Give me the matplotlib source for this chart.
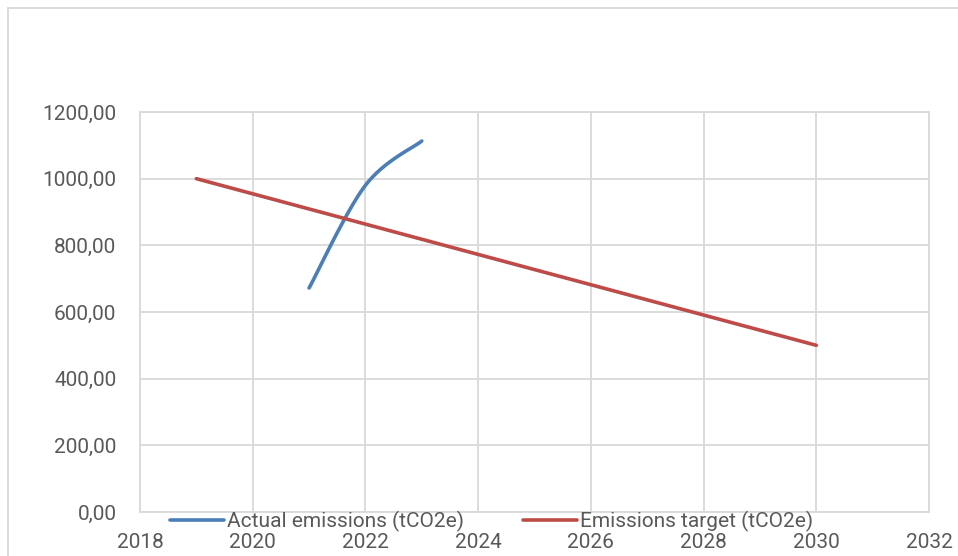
import matplotlib.pyplot as plt
import numpy as np
from matplotlib.patches import Rectangle
from matplotlib.ticker import FuncFormatter

plt.rcParams['font.family'] = ['Roboto', 'DejaVu Sans']

# data
actual_years = [2021, 2022, 2023]
actual_vals = [672, 980, 1113]
target_years = [2019, 2030]
target_vals = [1000, 500]

x_ticks = list(range(2018, 2033, 2))
y_ticks = list(range(0, 1201, 200))

grid_col = '#d9d9d9'
text_col = '#595959'


def smooth(xs, ys, n=40):
    # catmull-rom style smoothing like excel's smoothed line
    xs = np.asarray(xs, float)
    ys = np.asarray(ys, float)
    px = np.concatenate([[xs[0]], xs, [xs[-1]]])
    py = np.concatenate([[ys[0]], ys, [ys[-1]]])
    out_x, out_y = [], []
    for i in range(1, len(px) - 2):
        p0 = np.array([px[i], py[i]])
        p3 = np.array([px[i + 1], py[i + 1]])
        c1 = p0 + (np.array([px[i + 1], py[i + 1]]) - np.array([px[i - 1], py[i - 1]])) / 6
        c2 = p3 - (np.array([px[i + 2], py[i + 2]]) - np.array([px[i], py[i]])) / 6
        t = np.linspace(0, 1, n)[:, None]
        b = ((1 - t) ** 3) * p0 + 3 * ((1 - t) ** 2) * t * c1 + 3 * (1 - t) * t ** 2 * c2 + t ** 3 * p3
        out_x.extend(b[:, 0])
        out_y.extend(b[:, 1])
    return out_x, out_y


fig = plt.figure(figsize=(9.58, 5.56), dpi=100)
ax = fig.add_axes([140 / 958, 1 - 512 / 556, 789 / 958, 400 / 556])

sx, sy = smooth(actual_years, actual_vals)
ax.plot(sx, sy, color='#4a7ebb', lw=2.6, solid_capstyle='round',
        label='Actual emissions (tCO2e)')
ax.plot(target_years, target_vals, color='#be4b48', lw=2.6, solid_capstyle='round',
        label='Emissions target (tCO2e)')

ax.set_xlim(2018, 2032)
ax.set_ylim(0, 1200)
ax.set_xticks(x_ticks)
ax.set_yticks(y_ticks)
ax.yaxis.set_major_formatter(FuncFormatter(lambda v, p: f'{v:.2f}'.replace('.', ',')))
ax.grid(color=grid_col, lw=1.3)
ax.set_axisbelow(True)
for s in ax.spines.values():
    s.set_color(grid_col)
    s.set_linewidth(1.3)
ax.tick_params(length=0, labelsize=15, colors=text_col)
ax.tick_params(axis='x', pad=15)
ax.tick_params(axis='y', pad=17)

fig.legend(loc='center left', bbox_to_anchor=(170 / 958, 1 - 521 / 556), ncol=2,
           frameon=False, fontsize=15, labelcolor=text_col, handlelength=2.6,
           handletextpad=0.15, columnspacing=2.8, borderpad=0, borderaxespad=0)

fig.patches.append(Rectangle((8 / 958, -0.1), 2, 1 - 8 / 556 + 0.1, transform=fig.transFigure,
                             fill=False, edgecolor=grid_col, lw=1.3))

fig.savefig('out.png', dpi=100)
